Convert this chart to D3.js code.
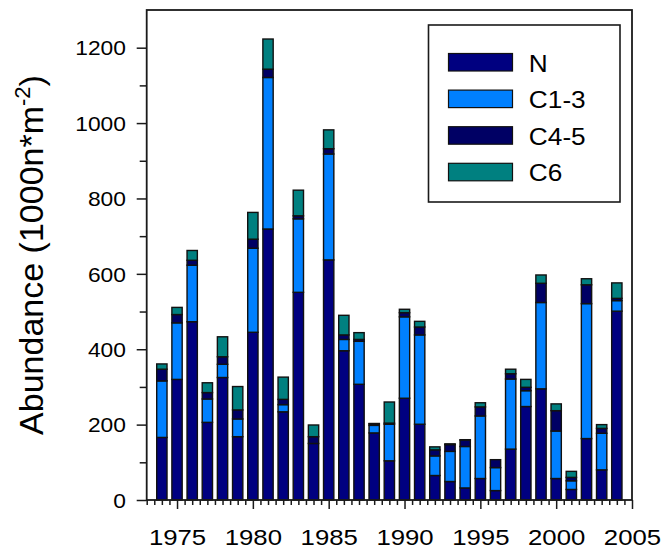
<!DOCTYPE html>
<html>
<head>
<meta charset="utf-8">
<script src="https://cdn.jsdelivr.net/npm/d3@7"></script>
<style>
  body { margin: 0; background: #fff; }
  svg { display: block; }
  text { font-family: "Liberation Sans", Arial, Helvetica, sans-serif; fill: #000; }
</style>
</head>
<body>
<svg id="chart" width="664" height="553"></svg>
<script>
// Sampling years
const years = [1974, 1975, 1976, 1977, 1978, 1979, 1980, 1981, 1982, 1983, 1984,
               1985, 1986, 1987, 1988, 1989, 1990, 1991, 1992, 1993, 1994,
               1995, 1996, 1997, 1998, 1999, 2000, 2001, 2002, 2003, 2004];

// Abundance by stage (1000 n per m^2)
const nauplii = [166, 320, 473, 206, 325, 168, 445, 719, 234, 551, 150,
                 637, 396, 307, 178, 104, 270, 201, 65, 49, 32,
                 57, 25, 135, 248, 295, 57, 28, 163, 80, 501];
const c1to3   = [150, 150, 150, 62, 35, 47, 223, 402, 19, 195, 0,
                 281, 30, 114, 20, 97, 216, 237, 52, 80, 110,
                 166, 61, 186, 42, 229, 126, 23, 358, 97, 28];
const c4to5   = [31, 22, 13, 17, 20, 24, 24, 22, 14, 8, 18,
                 14, 12, 5, 4, 3, 11, 21, 16, 18, 17,
                 24, 21, 14, 9, 51, 54, 9, 50, 13, 6];
const c6      = [14, 19, 26, 26, 53, 62, 71, 80, 59, 68, 31,
                 50, 52, 18, 1, 56, 9, 15, 8, 2, 1,
                 11, 0, 12, 21, 22, 18, 16, 16, 10, 41];

const seriesNames = ["N", "C1-3", "C4-5", "C6"];
const seriesColors = ["#000080", "#0080ff", "#000064", "#008080"];

const yMajorTicks = [0, 200, 400, 600, 800, 1000, 1200];
const yMinorTicks = [100, 300, 500, 700, 900, 1100];
const xMajorTicks = [1975, 1980, 1985, 1990, 1995, 2000, 2005];

// Build rows for the stack layout
const rows = years.map((yr, i) => ({
  year: yr, "N": nauplii[i], "C1-3": c1to3[i], "C4-5": c4to5[i], "C6": c6[i]
}));
const stacked = d3.stack().keys(seriesNames)(rows);

const svg = d3.select("#chart");
const plotLeft = 146.7, plotRight = 632, plotTop = 10, plotBottom = 500;

const x = d3.scaleLinear().domain([1973, 2005]).range([plotLeft, plotRight]);
const y = d3.scaleLinear().domain([0, 1300]).range([plotBottom, plotTop]);
const color = d3.scaleOrdinal().domain(seriesNames).range(seriesColors);

const barW = (x(1974) - x(1973)) * 0.68;

// Stacked bars
svg.append("g")
  .selectAll("g")
  .data(stacked)
  .join("g")
    .attr("fill", d => color(d.key))
  .selectAll("rect")
  .data(d => d.filter(s => s[1] - s[0] > 0))
  .join("rect")
    .attr("x", d => x(d.data.year) - barW / 2)
    .attr("width", barW)
    .attr("y", d => y(d[1]))
    .attr("height", d => y(d[0]) - y(d[1]))
    .attr("stroke", "#111")
    .attr("stroke-width", 1.4);

// Y axis: major ticks with labels, minor ticks without
const yMajor = svg.append("g")
  .attr("transform", `translate(${plotLeft},0)`)
  .call(d3.axisLeft(y).tickValues(yMajorTicks).tickSize(10).tickSizeOuter(0)
          .tickFormat(d3.format("d")));
yMajor.select(".domain").remove();
yMajor.selectAll("line").attr("stroke", "#1a1a1a").attr("stroke-width", 1.5);
yMajor.selectAll("text")
  .attr("font-size", 20)
  .attr("x", -18.2)
  .attr("dy", "0.36em")
  .attr("transform", "scale(1.14,1)")
  .style("font-family", "'Liberation Sans', Arial, sans-serif");

const yMinor = svg.append("g")
  .attr("transform", `translate(${plotLeft},0)`)
  .call(d3.axisLeft(y).tickValues(yMinorTicks).tickSize(7).tickFormat(""));
yMinor.select(".domain").remove();
yMinor.selectAll("line").attr("stroke", "#1a1a1a").attr("stroke-width", 1.5);

// X axis: half-year minor ticks, labelled ticks every five years
const xMinorVals = d3.range(1973, 2005.001, 0.5).filter(v => !xMajorTicks.includes(v));
const xMinor = svg.append("g")
  .attr("transform", `translate(0,${plotBottom})`)
  .call(d3.axisBottom(x).tickValues(xMinorVals).tickSize(5).tickFormat(""));
xMinor.select(".domain").remove();
xMinor.selectAll("line").attr("stroke", "#1a1a1a").attr("stroke-width", 1.5);

const xMajor = svg.append("g")
  .attr("transform", `translate(0,${plotBottom})`)
  .call(d3.axisBottom(x).tickValues(xMajorTicks).tickSize(9).tickFormat(d3.format("d")));
xMajor.select(".domain").remove();
xMajor.selectAll("line").attr("stroke", "#1a1a1a").attr("stroke-width", 1.5);
xMajor.selectAll("text")
  .attr("font-size", 23)
  .attr("y", 45)
  .attr("dy", 0)
  .attr("transform", "scale(1.12,1)")
  .style("font-family", "'Liberation Sans', Arial, sans-serif");

// Plot frame
svg.append("rect")
  .attr("x", plotLeft).attr("y", plotTop)
  .attr("width", plotRight - plotLeft).attr("height", plotBottom - plotTop)
  .attr("fill", "none")
  .attr("stroke", "#1a1a1a")
  .attr("stroke-width", 1.8);

// Y axis title
const title = svg.append("text")
  .attr("transform", "translate(43,255) rotate(-90)")
  .attr("text-anchor", "middle")
  .attr("font-size", 34);
title.append("tspan").text("Abundance (1000n*m");
title.append("tspan").attr("font-size", 22).attr("dy", -13).text("-2");
title.append("tspan").attr("dy", 13).text(")");

// Legend
const legend = svg.append("g");
legend.append("rect")
  .attr("x", 428.5).attr("y", 25)
  .attr("width", 191.5).attr("height", 177)
  .attr("fill", "#fff")
  .attr("stroke", "#1a1a1a")
  .attr("stroke-width", 1.6);

const item = legend.selectAll("g.item")
  .data(seriesNames)
  .join("g")
    .attr("class", "item")
    .attr("transform", (d, i) => `translate(448.5,${53.5 + i * 36.6})`);
item.append("rect")
  .attr("width", 64).attr("height", 17.5)
  .attr("fill", d => color(d))
  .attr("stroke", "#111")
  .attr("stroke-width", 1.2);
item.append("text")
  .attr("x", 70.5)
  .attr("y", 18)
  .attr("font-size", 23)
  .attr("transform", "scale(1.14,1)")
  .text(d => d);
</script>
</body>
</html>
